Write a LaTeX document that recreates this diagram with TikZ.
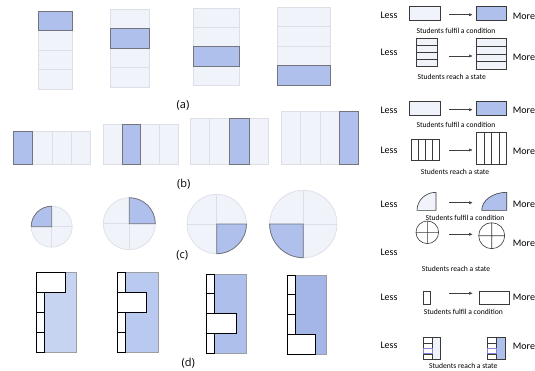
\documentclass[tikz,border=0pt]{standalone}
\usepackage{fontspec}
\setmainfont{Carlito}
\newfontfamily\panelfont{Open Sans}
\usetikzlibrary{arrows.meta}
\definecolor{cellbg}{HTML}{F0F3FA}
\definecolor{cellln}{HTML}{DCDFE6}
\definecolor{hibg}{HTML}{AFC0EC}
\definecolor{hiln}{HTML}{73747C}
\definecolor{shadeA}{HTML}{C6D4F2}
\definecolor{shadeB}{HTML}{B9C9EF}
\definecolor{shadeC}{HTML}{AEBFEC}
\definecolor{shadeD}{HTML}{A4B6E7}
\definecolor{inkline}{HTML}{3A3A3A}
% four rows stacked, #5 = highlighted row
\newcommand{\rowstack}[5]{%
  \pgfmathsetmacro\cellh{(#4-#3)/4}
  \foreach \i in {1,...,4}
    \draw[cell] (#1,{#3+(\i-1)*\cellh}) rectangle (#2,{#3+\i*\cellh});
  \draw[hicell] (#1,{#3+(#5-1)*\cellh}) rectangle (#2,{#3+#5*\cellh});
}
% four columns side by side, #5 = highlighted column
\newcommand{\colstack}[5]{%
  \pgfmathsetmacro\cellw{(#2-#1)/4}
  \foreach \i in {1,...,4}
    \draw[cell] ({#1+(\i-1)*\cellw},#3) rectangle ({#1+\i*\cellw},#4);
  \draw[hicell] ({#1+(#5-1)*\cellw},#3) rectangle ({#1+#5*\cellw},#4);
}
% quartered disc, #4 = start angle of the highlighted quarter
\newcommand{\quarterdisc}[4]{%
  \draw[cell] (#1,#2) circle[radius=#3];
  \draw[cellln,line width=0.7pt] (#1-#3,#2) -- (#1+#3,#2) (#1,#2-#3) -- (#1,#2+#3);
  \draw[hicell] (#1,#2) -- ++(#4:#3) arc[start angle=#4, end angle=#4+90, radius=#3] -- cycle;
}
% bar with a strip of four slots, slot #7 pulled out to #6
\newcommand{\slotbar}[8]{%
  \draw[draw=hiln!70,line width=0.7pt,fill=#8] (#1,#3) rectangle (#2,#4);
  \pgfmathsetmacro\cellh{(#4-#3)/4}
  \foreach \i in {1,...,4}
    \draw[slotcell] (#1,{#3+(\i-1)*\cellh}) rectangle (#5,{#3+\i*\cellh});
  \draw[slotcell] (#1,{#3+(#7-1)*\cellh}) rectangle (#6,{#3+#7*\cellh});
}
\begin{document}
\begin{tikzpicture}[x=1pt,y=-1pt,
  cell/.style={draw=cellln,line width=0.7pt,fill=cellbg},
  hicell/.style={draw=hiln,line width=0.8pt,fill=hibg},
  slotcell/.style={draw=black,line width=0.8pt,fill=white},
  key/.style={draw=inkline,line width=0.6pt},
  tag/.style={font=\panelfont\fontsize{11}{12}\selectfont},
  lbl/.style={font=\fontsize{10}{11}\selectfont,inner sep=0pt},
  note/.style={font=\fontsize{7.6}{8}\selectfont,inner sep=0pt},
  go/.style={draw=black!75,line width=0.5pt,-{Latex[length=3.5pt,width=3pt]}}]
  \useasboundingbox (0,0) rectangle (535,370);
  % (a) rows
  \rowstack{38.3}{72}{11.3}{89.3}{1}
  \rowstack{110}{149.7}{9.3}{87.3}{2}
  \rowstack{193.3}{239.7}{8}{85.7}{3}
  \rowstack{277.3}{330.7}{7}{85.3}{4}
  \node[tag] (taga) at (183,105) {(a)};
  % (b) columns
  \colstack{13.3}{90.7}{131.3}{164.3}{1}
  \colstack{103.3}{178.3}{124.7}{164.3}{2}
  \colstack{190}{268.7}{118}{164.3}{3}
  \colstack{281.7}{358}{111}{164.3}{4}
  \node[tag] (tagb) at (183.7,184) {(b)};
  % (c) discs
  \quarterdisc{51.7}{226.7}{20.5}{180}
  \quarterdisc{129.3}{223.7}{26}{270}
  \quarterdisc{216.7}{224}{29.7}{0}
  \quarterdisc{303.3}{224}{33.7}{90}
  \node[tag] (tagc) at (182.3,255.7) {(c)};
  % (d) slots
  \slotbar{36.7}{76}{272.3}{352}{44.3}{65.7}{1}{shadeA}
  \slotbar{117.7}{158.3}{272.7}{352.3}{125.7}{146.7}{2}{shadeB}
  \slotbar{206.7}{246.7}{274}{353.3}{214.3}{236}{3}{shadeC}
  \slotbar{287.3}{326.7}{275}{354}{295.3}{315.7}{4}{shadeD}
  \node[tag] (tagd) at (188.3,363) {(d)};
  % legend
  \foreach \y [count=\i] in {15.7,52,110.7,150,204,252.7,297.7,345.3}
    \node[lbl] (less\i) at (389,\y) {Less};
  \foreach \y [count=\i] in {16,57.3,110,151,204,243.3,297.7,346}
    \node[lbl,anchor=west] (more\i) at (512.7,\y) {More};
  \foreach \x/\y/\t [count=\i] in {456/31.3/fulfil a condition,451.7/77.3/reach a state,
      456/124.7/fulfil a condition,455/172/reach a state,465/218.3/fulfil a condition,
      456/269.3/reach a state,463.3/312.3/fulfil a condition,463.3/366/reach a state}
    \node[note] (cap\i) at (\x,\y) {Students \t};
  \foreach \y [count=\i] in {14.7,56,109.7,150,202.7,234.3,293.3} {
    \coordinate (from\i) at (449.3,\y);
    \coordinate (to\i) at (472.7,\y);
    \draw[go] (from\i) -- (to\i);
  }
  % row 1 and 3
  \foreach \y in {6.7,101.5} {
    \draw[key,fill=cellbg] (409.3,\y) rectangle (440.7,\y+13.5);
    \draw[key,fill=hibg] (476.7,\y) rectangle (506.7,\y+13.5);
  }
  % row 2
  \foreach \i in {1,...,4} {
    \draw[key,fill=cellbg] (416,{38.3+(\i-1)*7.1}) rectangle (437,{38.3+\i*7.1});
    \draw[key,fill=cellbg] (476.7,{38.3+(\i-1)*7.75}) rectangle (506.7,{38.3+\i*7.75});
  }
  % row 4
  \foreach \i in {1,...,4} {
    \draw[key] ({411+(\i-1)*7.08},139) rectangle ({411+\i*7.08},160.7);
    \draw[key] ({476.7+(\i-1)*7.5},132.7) rectangle ({476.7+\i*7.5},164);
  }
  % row 5
  \draw[key,fill=cellbg] (436,210.3) -- (417,210.3) arc[start angle=180, end angle=270, x radius=19, y radius=18] -- cycle;
  \draw[key,fill=hibg] (506.7,210.3) -- (481.7,210.3) arc[start angle=180, end angle=270, x radius=25, y radius=18] -- cycle;
  % row 6
  \draw[key] (427.3,232.3) circle[radius=11.3] (416,232.3) -- (438.6,232.3) (427.3,221) -- (427.3,243.6);
  \draw[key] (491.7,235.7) circle[radius=13] (478.7,235.7) -- (504.7,235.7) (491.7,222.7) -- (491.7,248.7);
  % row 7
  \draw[key] (423.3,291) rectangle (430.7,304.7);
  \draw[key] (479.3,291) rectangle (509.3,304.7);
  % row 8
  \draw[key,fill=cellbg] (423.3,337.3) rectangle (440.7,359.3);
  \draw[key,fill=hibg] (487.7,337.3) rectangle (505.7,359.3);
  \foreach \i in {1,...,4} {
    \draw[key,fill=white] (423.3,{337.3+(\i-1)*5.5}) rectangle (432,{337.3+\i*5.5});
    \draw[key,fill=white] (487.7,{337.3+(\i-1)*5.5}) rectangle (496,{337.3+\i*5.5});
  }
  \draw[draw=hiln!40!blue!60,line width=0.7pt] (423.3,348.3) rectangle (432,353.8);
  \draw[draw=hiln!40!blue!60,line width=0.7pt] (487.7,348.3) rectangle (496,353.8);
\end{tikzpicture}
\end{document}
